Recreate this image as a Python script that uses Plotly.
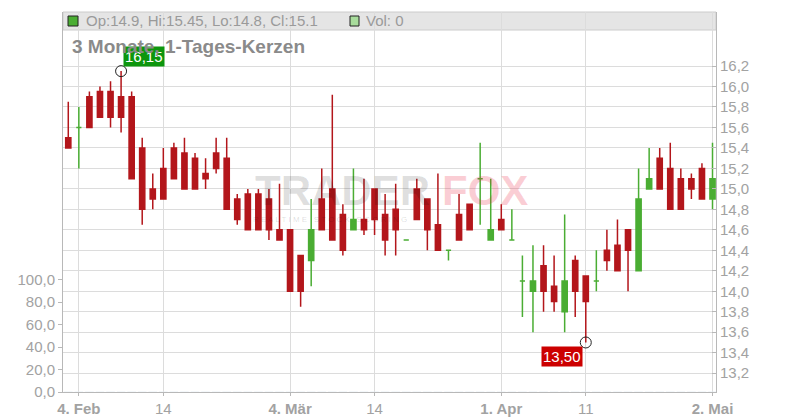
import plotly.graph_objects as go

# ---------------- data ----------------
dates = [
    "2019-02-01", "2019-02-04", "2019-02-05", "2019-02-06", "2019-02-07", "2019-02-08",
    "2019-02-11", "2019-02-12", "2019-02-13", "2019-02-14", "2019-02-15",
    "2019-02-18", "2019-02-19", "2019-02-20", "2019-02-21", "2019-02-22",
    "2019-02-25", "2019-02-26", "2019-02-27", "2019-02-28", "2019-03-01",
    "2019-03-04", "2019-03-05", "2019-03-06", "2019-03-07", "2019-03-08",
    "2019-03-11", "2019-03-12", "2019-03-13", "2019-03-14", "2019-03-15",
    "2019-03-18", "2019-03-19", "2019-03-20", "2019-03-21", "2019-03-22",
    "2019-03-25", "2019-03-26", "2019-03-27", "2019-03-28", "2019-03-29",
    "2019-04-01", "2019-04-02", "2019-04-03", "2019-04-04", "2019-04-05",
    "2019-04-08", "2019-04-09", "2019-04-10", "2019-04-11", "2019-04-12",
    "2019-04-15", "2019-04-16", "2019-04-17", "2019-04-18",
    "2019-04-23", "2019-04-24", "2019-04-25", "2019-04-26",
    "2019-04-29", "2019-04-30", "2019-05-02",
]
opens = [
    15.50, 15.60, 15.90, 15.95, 15.95, 15.90,
    15.90, 15.40, 15.00, 15.20, 15.40,
    15.35, 15.30, 15.15, 15.35, 15.30,
    14.90, 14.95, 14.95, 14.90, 14.60,
    14.60, 14.35, 14.30, 14.90, 15.00,
    14.75, 14.60, 14.70, 15.00, 14.75,
    14.80, 14.50, 15.00, 14.90, 14.65,
    14.40, 14.75, 14.85, 15.10, 14.50,
    14.70, 14.50, 14.10, 14.00, 14.25,
    14.05, 13.80, 14.30, 14.15, 14.10,
    14.40, 14.45, 14.60, 14.20,
    15.00, 15.30, 15.20, 15.10,
    15.10, 15.20, 14.90,
]
highs = [
    15.85, 15.80, 15.95, 16.00, 16.05, 16.15,
    15.95, 15.50, 15.15, 15.40, 15.45,
    15.50, 15.35, 15.30, 15.50, 15.50,
    14.95, 15.00, 15.00, 15.00, 15.05,
    14.60, 14.35, 14.90, 15.20, 15.92,
    14.85, 15.20, 15.10, 15.00, 14.95,
    15.05, 14.50, 15.10, 14.90, 15.15,
    14.40, 14.95, 14.85, 15.45, 15.10,
    14.85, 14.80, 14.35, 14.45, 14.45,
    14.35, 14.75, 14.35, 14.15, 14.40,
    14.60, 14.70, 14.60, 15.20,
    15.40, 15.40, 15.45, 15.20,
    15.15, 15.25, 15.45,
]
lows = [
    15.40, 15.20, 15.60, 15.70, 15.60, 15.55,
    15.10, 14.65, 14.80, 14.90, 15.10,
    15.00, 15.00, 15.00, 15.15, 14.80,
    14.65, 14.60, 14.60, 14.50, 14.50,
    14.00, 13.85, 14.05, 14.60, 14.50,
    14.35, 14.60, 14.55, 14.55, 14.35,
    14.35, 14.50, 14.70, 14.40, 14.40,
    14.30, 14.50, 14.60, 14.65, 14.50,
    14.60, 14.50, 13.75, 13.60, 13.80,
    13.80, 13.60, 13.75, 13.50, 14.00,
    14.20, 14.20, 14.00, 14.20,
    15.00, 15.00, 14.80, 14.80,
    14.90, 14.90, 14.80,
]
closes = [
    15.40, 15.60, 15.60, 15.70, 15.70, 15.70,
    15.10, 14.80, 14.90, 14.90, 15.10,
    15.00, 15.00, 15.10, 15.20, 14.80,
    14.70, 14.60, 14.60, 14.60, 14.50,
    14.00, 14.00, 14.60, 14.60, 14.50,
    14.40, 14.70, 14.60, 14.70, 14.50,
    14.60, 14.50, 14.70, 14.60, 14.40,
    14.40, 14.50, 14.60, 15.10, 14.60,
    14.60, 14.50, 14.10, 14.10, 14.00,
    13.90, 14.10, 14.00, 13.90, 14.10,
    14.30, 14.20, 14.40, 14.90,
    15.10, 15.00, 14.80, 14.80,
    15.00, 14.90, 15.10,
]
volumes = [
    0, 0, 0, 0, 0, 0, 0, 0, 0, 0, 0, 0, 0, 0, 0, 0, 0, 0, 0, 0, 0,
    0, 0, 0, 0, 0, 0, 0, 0, 0, 0, 0, 0, 0, 0, 0, 0, 0, 0, 0, 0,
    0, 0, 0, 0, 0, 0, 0, 0, 0, 0, 0, 0, 0, 0, 0, 0, 0, 0, 0, 0, 0,
]

tick_dates = ["2019-02-04", "2019-02-14", "2019-03-04", "2019-03-14",
              "2019-04-01", "2019-04-11", "2019-05-02"]
tick_labels = ["<b>4. Feb</b>", "14", "<b>4. Mär</b>", "14",
               "<b>1. Apr</b>", "11", "<b>2. Mai</b>"]
price_ticks = [13.2, 13.4, 13.6, 13.8, 14.0, 14.2, 14.4, 14.6, 14.8,
               15.0, 15.2, 15.4, 15.6, 15.8, 16.0, 16.2]
vol_ticks = [0, 20, 40, 60, 80, 100]

title_text = "3 Monate, 1-Tages-Kerzen"
ohlc_text = "Op:14.9, Hi:15.45, Lo:14.8, Cl:15.1"
vol_text = "Vol: 0"
high_label, high_date, high_value = "16,15", "2019-02-08", 16.15
low_label, low_date, low_value = "13,50", "2019-04-11", 13.50

# ---------------- style ----------------
FONT = "Liberation Sans, Arial, sans-serif"
RED = "#b3161b"
GREEN = "#4aad33"
GRID = "#dcdcdc"
AXIS = "#b8b8b8"
TXT = "#a2a2a2"

W, H = 800, 420
L, R, T, B = 63, 84, 12, 28
PW, PH = W - L - R, H - T - B


def px(x):
    return (x - L) / PW


def py(y):
    return (H - B - y) / PH


up = [c >= o for o, c in zip(opens, closes)]
down = [not u for u in up]


def subset(mask, arr):
    return [a for a, m in zip(arr, mask) if m]


fig = go.Figure()

fig.add_trace(go.Bar(x=dates, y=volumes, yaxis="y2", marker_color="#a8dc9c",
                     hoverinfo="skip", showlegend=False))

for mask, col in ((up, GREEN), (down, RED)):
    fig.add_trace(go.Candlestick(
        x=subset(mask, dates), open=subset(mask, opens), high=subset(mask, highs),
        low=subset(mask, lows), close=subset(mask, closes),
        increasing=dict(line=dict(color=col, width=1.5), fillcolor=col),
        decreasing=dict(line=dict(color=col, width=1.5), fillcolor=col),
        whiskerwidth=0, hoverinfo="skip", showlegend=False,
    ))

fig.add_trace(go.Scatter(
    x=[high_date, low_date], y=[high_value, low_value], mode="markers",
    marker=dict(symbol="circle-open", size=11, color="#222222", line=dict(width=1)),
    hoverinfo="skip", showlegend=False,
))

annotations = [
    dict(x=high_date, y=high_value, xref="x", yref="y", text=high_label,
         showarrow=False, xanchor="left", yanchor="bottom", xshift=2, yshift=4,
         bgcolor="#0d960d", font=dict(family=FONT, size=15, color="white"), borderpad=1),
    dict(x=low_date, y=low_value, xref="x", yref="y", text=low_label,
         showarrow=False, xanchor="right", yanchor="top", xshift=-3, yshift=-4,
         bgcolor="#cc0000", font=dict(family=FONT, size=15, color="white"), borderpad=1),
    dict(x=px(84), y=py(21), xref="paper", yref="paper", text=ohlc_text,
         showarrow=False, xanchor="left", yanchor="middle",
         font=dict(family=FONT, size=15, color="#9a9a9a")),
    dict(x=px(364), y=py(21), xref="paper", yref="paper", text=vol_text,
         showarrow=False, xanchor="left", yanchor="middle",
         font=dict(family=FONT, size=15, color="#9a9a9a")),
    dict(x=px(70), y=py(47), xref="paper", yref="paper", text="<b>" + title_text + "</b>",
         showarrow=False, xanchor="left", yanchor="middle",
         font=dict(family=FONT, size=19, color="#8a8a8a")),
    # watermark
    dict(x=px(432), y=py(190), xref="paper", yref="paper", text="<b>TRADER</b>",
         showarrow=False, xanchor="right", yanchor="middle",
         font=dict(family=FONT, size=42, color="rgba(0,0,0,0.13)")),
    dict(x=px(440), y=py(190), xref="paper", yref="paper", text="<b>FOX</b>",
         showarrow=False, xanchor="left", yanchor="middle",
         font=dict(family=FONT, size=42, color="rgba(235,30,60,0.22)")),
    dict(x=px(330), y=py(220), xref="paper", yref="paper",
         text="R E A L T I M E   S T O C K   S C O R I N G",
         showarrow=False, xanchor="center", yanchor="middle",
         font=dict(family=FONT, size=8, color="rgba(0,0,0,0.15)")),
]

shapes = [
    dict(type="rect", xref="paper", yref="paper", x0=0, x1=1, y0=py(30), y1=1,
         fillcolor="#e5e5e5", line=dict(color="#cccccc", width=1), layer="below"),
    dict(type="rect", xref="paper", yref="paper", x0=px(68), x1=px(78), y0=py(26), y1=py(16),
         fillcolor=GREEN, line=dict(color="#222222", width=1)),
    dict(type="rect", xref="paper", yref="paper", x0=px(350), x1=px(359), y0=py(26), y1=py(16),
         fillcolor="#a8dc9c", line=dict(color="#222222", width=1)),
]

n = len(dates)
fig.update_layout(
    width=W, height=H, autosize=False,
    margin=dict(l=L, r=R, t=T, b=B, pad=0),
    paper_bgcolor="white", plot_bgcolor="white",
    separators=",.",
    showlegend=False,
    hovermode=False,
    font=dict(family=FONT, size=15, color=TXT),
    xaxis=dict(
        type="category", categoryorder="array", categoryarray=dates,
        range=[-0.5, n - 1 + 0.33],
        tickmode="array", tickvals=tick_dates, ticktext=tick_labels,
        showgrid=True, gridcolor=GRID, gridwidth=1,
        showline=True, linecolor=AXIS, linewidth=1,
        ticks="outside", ticklen=3, tickcolor=AXIS,
        tickfont=dict(family=FONT, size=15, color=TXT),
        rangeslider=dict(visible=False), fixedrange=True,
        zeroline=False, automargin=False,
    ),
    yaxis=dict(
        side="right", range=[13.0164, 16.7273],
        tickmode="array", tickvals=price_ticks, tickformat=".1f",
        showgrid=True, gridcolor=GRID, gridwidth=1,
        showline=True, linecolor=AXIS, linewidth=1,
        ticks="inside", ticklen=4, tickcolor=AXIS,
        tickfont=dict(family=FONT, size=15, color=TXT),
        zeroline=False, fixedrange=True, automargin=False,
    ),
    yaxis2=dict(
        overlaying="y", side="left", range=[0, 338.5],
        tickmode="array", tickvals=vol_ticks, tickformat=".1f",
        showgrid=False, showline=True, linecolor=AXIS, linewidth=1,
        ticks="outside", ticklen=4, tickcolor=AXIS,
        tickfont=dict(family=FONT, size=15, color=TXT),
        zeroline=False, fixedrange=True, automargin=False,
    ),
    annotations=annotations,
    shapes=shapes,
)

fig.write_html(
    "out.html",
    config={"responsive": False, "displayModeBar": False},
    post_script="document.body.style.margin='0';document.body.style.overflow='hidden';",
)
